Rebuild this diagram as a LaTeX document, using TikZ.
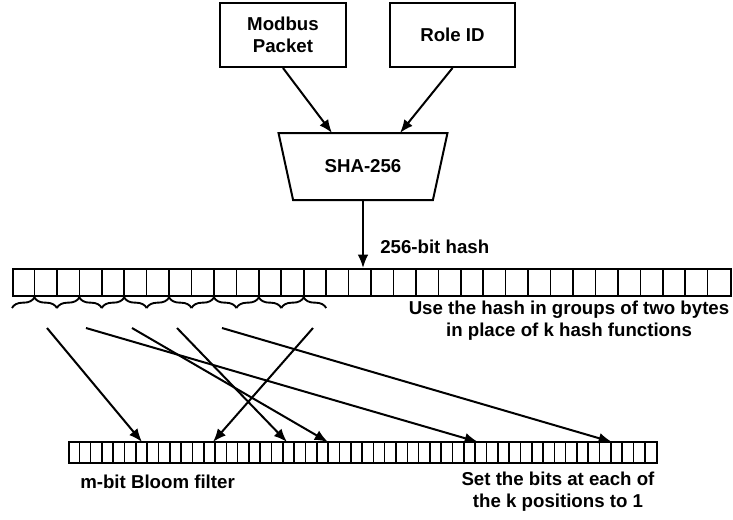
\documentclass[tikz,border=0pt]{standalone}
\usepackage{fontspec}
\setmainfont{Liberation Sans}
\usetikzlibrary{arrows.meta,calc,shapes.geometric,decorations.pathreplacing}
\tikzset{
  font=\bfseries\fontsize{14}{16.5}\selectfont,
  >={Latex[length=10pt,width=8pt]},
  box/.style={draw=black, line width=1.5pt, align=center, inner sep=0pt},
  hashfn/.style={draw=black, line width=1.5pt, trapezium, shape border rotate=180,
    trapezium angle=68, trapezium stretches=true, minimum width=127.5pt, minimum height=50.25pt},
  bits/.style={draw=black, line width=1.5pt, inner sep=0pt},
  sep/.style={draw=black, line width=1.2pt},
  arr/.style={draw=black, line width=1.5pt, ->},
  grp/.style={draw=black, line width=1.4pt, decorate, decoration={brace, amplitude=8pt}},
  lab/.style={inner sep=0pt, align=center},
}
\begin{document}
\begin{tikzpicture}[x=0.75pt,y=-0.75pt]
\useasboundingbox (0,0) rectangle (733,519);
% inputs
\node[box, minimum width=94.5pt, minimum height=48pt] (pkt) at (283,35) {Modbus\\Packet};
\node[box, minimum width=93.75pt, minimum height=48pt] (role) at (452.5,35) {Role ID};
% hash function
\node[hashfn] (sha) at (363,166.5) {SHA-256};
\coordinate (inL) at (332,133);
\coordinate (inR) at (400,133);
\draw[arr] (pkt.south) -- (inL);
\draw[arr] (role.south) -- (inR);
% 256-bit hash = 32 bytes
\node[bits, minimum width=538.5pt, minimum height=20.25pt] (hash) at (372,282.5) {};
\foreach \i in {1,...,31} \draw[sep] (hash.north west) ++(\i*22.44,0) -- ++(0,27);
\draw[arr] (sha.south) -- (sha.south |- hash.north);
\node[lab, anchor=west] (hlab) at (380,247) {256-bit hash};
% groups of two bytes
\foreach \i in {0,...,6} \draw[grp] ($(hash.south west)+(\i*44.88,11)$) -- ($(hash.south west)+(\i*44.88+44.88,11)$);
\node[lab] (use) at (569,321) {Use the hash in groups of two bytes\\in place of k hash functions};
% bloom filter
\node[bits, minimum width=441pt, minimum height=15.75pt] (bloom) at (363,452.5) {};
\foreach \i in {1,...,51} \draw[sep] (bloom.north west) ++(\i*11.31,0) -- ++(0,21);
\node[lab, anchor=west] (mlab) at (80,482) {m-bit Bloom filter};
\node[lab] (setlab) at (558,492) {Set the bits at each of\\the k positions to 1};
% byte pairs -> bit positions
\foreach \s/\t [count=\n] in {47/142, 86/478, 132/328, 177/287, 222/612, 313/213} {
  \coordinate (g\n) at (\s,328);
  \coordinate (b\n) at (\t,442);
  \draw[arr] (g\n) -- (b\n);
}
\end{tikzpicture}
\end{document}
